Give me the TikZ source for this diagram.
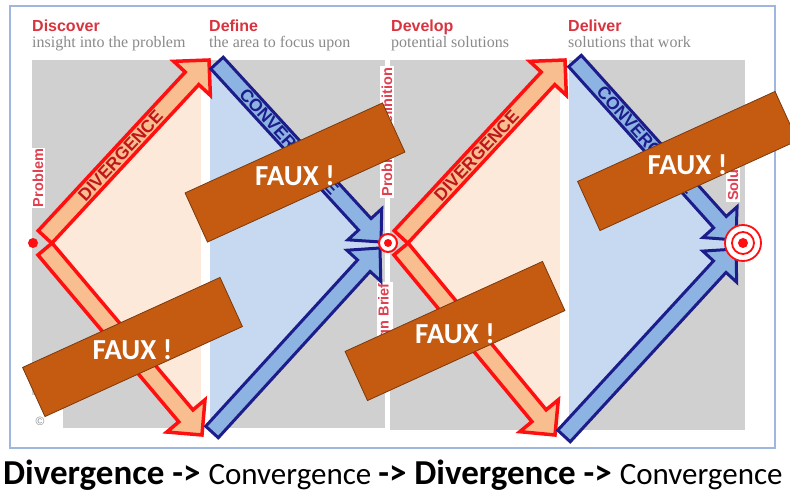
\documentclass[tikz,border=0pt]{standalone}
\usepackage{fontspec}
\setmainfont{Liberation Serif}
\setsansfont{Liberation Sans}
\newfontfamily\calibri{Carlito}
\usetikzlibrary{calc}

\definecolor{panelgray}{HTML}{D0D0D0}
\definecolor{peach}{HTML}{FDE9D9}
\definecolor{paleblue}{HTML}{C6D9F1}
\definecolor{divred}{HTML}{FF1010}
\definecolor{divfill}{HTML}{F9BE8F}
\definecolor{divtxt}{HTML}{C0151B}
\definecolor{convnavy}{HTML}{1C1C8A}
\definecolor{convfill}{HTML}{8DB3E2}
\definecolor{headred}{HTML}{D8343F}
\definecolor{lblred}{HTML}{E04050}
\definecolor{subgray}{HTML}{8A8A8A}
\definecolor{fauxbrown}{HTML}{C55A11}
\definecolor{fauxedge}{HTML}{7A3A0E}
\definecolor{frameblue}{HTML}{9FB6DD}

% fat arrow: style, tail, tip, shaft half width, head half width, head length
\newcommand{\fatarrow}[6]{%
  \draw[#1] ($(#2)!#4!90:(#3)$) -- ($(#3)!#6!(#2)!#4!-90:(#2)$)
    -- ($(#3)!#6!(#2)!#5!-90:(#2)$) -- (#3)
    -- ($(#3)!#6!(#2)!#5!90:(#2)$) -- ($(#3)!#6!(#2)!#4!90:(#2)$)
    -- ($(#2)!#4!-90:(#3)$) -- cycle;}

\begin{document}
\begin{tikzpicture}[x=1pt, y=-1pt,
    phasehead/.style={font=\sffamily\bfseries\fontsize{16}{16}\selectfont, text=headred, anchor=base west, inner sep=0},
    phasesub/.style={font=\fontsize{16}{16}\selectfont, text=subgray, anchor=base west, inner sep=0},
    vlabel/.style={font=\sffamily\bfseries\fontsize{14.5}{14.5}\selectfont, text=lblred, fill=white, inner sep=1.2pt, rotate=90},
    divarrow/.style={draw=divred, fill=divfill, line width=3.5pt},
    convarrow/.style={draw=convnavy, fill=convfill, line width=3pt},
    divtext/.style={font=\sffamily\bfseries\fontsize{17.5}{17.5}\selectfont, text=divtxt, sloped, inner sep=0},
    convtext/.style={font=\sffamily\bfseries\fontsize{17.5}{17.5}\selectfont, text=convnavy, sloped, inner sep=0},
    ring/.style={circle, draw=divred, fill=white, line width=2pt, inner sep=0},
    dot/.style={circle, fill=divred, inner sep=0},
    fauxbox/.style={fill=fauxbrown, draw=fauxedge, line width=0.8pt, minimum width=217pt, minimum height=54pt, rotate=24.5, inner sep=0},
    fauxtext/.style={font=\calibri\bfseries\fontsize{29}{29}\selectfont, text=white, inner sep=0}
  ]
  \useasboundingbox (0,0) rectangle (790,492);
  \fill[white] (0,0) rectangle (790,492);

  % Frame and panels
  \draw[frameblue, line width=1.5pt] (10,6) rectangle (775,448);
  \fill[panelgray] (32,60) rectangle (385,428);
  \fill[panelgray] (390,60) rectangle (745,430);
  \fill[peach] (48,243) -- (201,60) -- (201,428) -- cycle;
  \fill[paleblue] (210,60) -- (384,243) -- (210,428) -- cycle;
  \fill[peach] (404,243) -- (560,60) -- (560,430) -- cycle;
  \fill[paleblue] (569,60) -- (742,243) -- (569,430) -- cycle;
  \fill[white] (201,60) rectangle (210,428);
  \fill[white] (560,60) rectangle (569,430);
  \fill[white] (32,395) rectangle (63,428);
  \node[font=\sffamily\fontsize{12}{12}\selectfont, text=black!45] (copyr) at (40,421) {©};

  % Phase headings
  \node[phasehead] (hdiscover) at (32,32) {Discover};
  \node[phasesub] (sdiscover) at (32,48) {insight into the problem};
  \node[phasehead] (hdefine) at (209,32) {Define};
  \node[phasesub] (sdefine) at (209,48) {the area to focus upon};
  \node[phasehead] (hdevelop) at (391,32) {Develop};
  \node[phasesub] (sdevelop) at (391,48) {potential solutions};
  \node[phasehead] (hdeliver) at (568,32) {Deliver};
  \node[phasesub] (sdeliver) at (568,48) {solutions that work};

  % Milestone labels
  \node[vlabel] (lproblem) at (38,178) {Problem};
  \node[vlabel] (ldefinition) at (387,132) {Problem Definition};
  \node[vlabel] (lbrief) at (385,326) {Design Brief};
  \node[vlabel] (lsolution) at (733,172) {Solution};

  % Arrow ends
  \coordinate (dv1a) at (45,237);  \coordinate (dv1b) at (209,60);
  \coordinate (dv2a) at (45,249);  \coordinate (dv2b) at (202,435);
  \coordinate (cv1a) at (217,63);  \coordinate (cv1b) at (381,242);
  \coordinate (cv2a) at (212,432); \coordinate (cv2b) at (380,248);
  \coordinate (dv3a) at (401,237); \coordinate (dv3b) at (565,60);
  \coordinate (dv4a) at (401,249); \coordinate (dv4b) at (555,435);
  \coordinate (cv3a) at (575,61);  \coordinate (cv3b) at (736,240);
  \coordinate (cv4a) at (564,436); \coordinate (cv4b) at (736,249);

  % Diamond 1
  \fatarrow{divarrow}{dv1a}{dv1b}{9.25pt}{25pt}{25pt}
  \fatarrow{divarrow}{dv2a}{dv2b}{9.25pt}{25pt}{25pt}
  \fatarrow{convarrow}{cv1a}{cv1b}{8.5pt}{23pt}{24pt}
  \fatarrow{convarrow}{cv2a}{cv2b}{8.5pt}{23pt}{24pt}
  \path (dv1a) -- (dv1b) node[divtext, pos=0.46] (tdiv1) {DIVERGENCE};
  \path (cv1a) -- (cv1b) node[convtext, pos=0.44] (tconv1) {CONVERGENCE};

  % Diamond 2
  \fatarrow{divarrow}{dv3a}{dv3b}{9.25pt}{25pt}{25pt}
  \fatarrow{divarrow}{dv4a}{dv4b}{9.25pt}{25pt}{25pt}
  \fatarrow{convarrow}{cv3a}{cv3b}{8.5pt}{23pt}{24pt}
  \fatarrow{convarrow}{cv4a}{cv4b}{8.5pt}{23pt}{24pt}
  \path (dv3a) -- (dv3b) node[divtext, pos=0.46] (tdiv2) {DIVERGENCE};
  \path (cv3a) -- (cv3b) node[convtext, pos=0.44] (tconv2) {CONVERGENCE};

  % Start point and targets
  \node[dot, minimum size=10pt] (start) at (33,243) {};
  \node[ring, minimum size=18pt] (target1) at (388,243) {};
  \node[dot, minimum size=8pt] (target1dot) at (target1) {};
  \node[ring, minimum size=36pt, line width=1.8pt] (target2) at (743,243) {};
  \node[ring, minimum size=22pt, line width=1.8pt] (target2mid) at (target2) {};
  \node[dot, minimum size=10pt] (target2dot) at (target2) {};

  % FAUX stamps
  \node[fauxbox] (faux1) at (295,172.5) {};
  \node[fauxtext] (faux1txt) at ([yshift=-3pt]faux1.center) {FAUX !};
  \node[fauxbox] (faux2) at (687.5,161) {};
  \node[fauxtext] (faux2txt) at ([yshift=-4pt]faux2.center) {FAUX !};
  \node[fauxbox] (faux3) at (132.5,347) {};
  \node[fauxtext] (faux3txt) at ([yshift=-3pt]faux3.center) {FAUX !};
  \node[fauxbox] (faux4) at (455,331) {};
  \node[fauxtext] (faux4txt) at ([yshift=-3pt]faux4.center) {FAUX !};

  % Caption
  \node[anchor=base west, inner sep=0, font=\calibri] (caption) at (3,484)
    {{\bfseries\fontsize{35}{35}\selectfont Divergence -> }{\fontsize{31}{31}\selectfont Convergence }{\bfseries\fontsize{35}{35}\selectfont -> Divergence -> }{\fontsize{31}{31}\selectfont Convergence}};

\end{tikzpicture}
\end{document}
